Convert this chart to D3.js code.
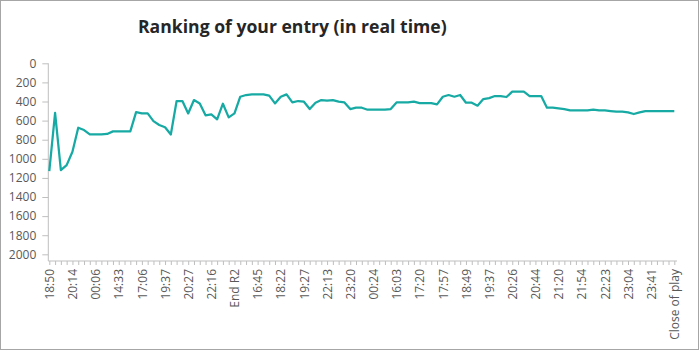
<!DOCTYPE html>
<html><head><meta charset="utf-8">
<script src="https://cdn.jsdelivr.net/npm/d3@7"></script>
<style>
body{margin:0;background:#fff;}
svg{display:block;}
text{font-family:"Open Sans","Noto Sans",sans-serif;}
</style></head>
<body>
<svg id="chart" width="699" height="350"></svg>
<script>
const title = "Ranking of your entry (in real time)";
// x-axis tick labels (one every 4th snapshot)
const tickLabels = ["18:50","20:14","00:06","14:33","17:06","19:37","20:27","22:16","End R2","16:45","18:22","19:27","22:13","23:20","00:24","16:03","17:20","17:57","18:49","19:37","20:26","20:44","21:20","21:54","22:23","23:04","23:41","Close of play"];
const labelEvery = 4;
// ranking at each snapshot
const ranking = [1130,518,1118,1066,926,675,699,745,745,745,740,713,713,713,713,511,525,525,605,646,
  670,745,395,395,525,385,420,545,535,587,423,566,525,350,332,325,325,325,339,420,
  350,325,410,395,402,479,413,385,392,385,402,410,479,465,465,486,486,486,486,479,
  410,410,410,402,416,416,416,430,350,332,350,332,413,413,444,374,364,343,343,353,
  297,297,297,343,343,343,465,465,472,479,493,493,493,493,486,493,493,500,507,507,
  514,531,514,500,500,500,500,500,500];
const yTicks = [0,200,400,600,800,1000,1200,1400,1600,1800,2000];
const yAxisMax = 2070;

const svg = d3.select("#chart");
const W = 699, H = 350;
const mLeft = 48.3, mRight = 674.3, mTop = 63.3, mBottom = 261;

svg.append("rect").attr("x",0.5).attr("y",0.5).attr("width",W-1).attr("height",H-1)
  .attr("fill","#fff").attr("stroke","#a6a6a6").attr("stroke-width",1);

svg.append("text").attr("x",138).attr("y",33).attr("font-size","17.6px").attr("font-weight","bold")
  .attr("fill","#262626").text(title);

const idx = ranking.map((d,i)=>i);
const x = d3.scalePoint().domain(idx).range([mLeft+1, mRight]).padding(0);
const y = d3.scaleLinear().domain([0,yAxisMax]).range([mTop,mBottom]);

// y axis
const gy = svg.append("g").attr("transform",`translate(${mLeft},0)`)
  .call(d3.axisLeft(y).tickValues(yTicks).tickSize(6).tickPadding(6).tickFormat(d3.format("d")));
gy.select(".domain").remove();
gy.selectAll(".tick line").attr("stroke","#bfbfbf");
gy.selectAll(".tick text").attr("fill","#595959").attr("font-size","12px");
svg.append("line").attr("x1",mLeft).attr("x2",mLeft).attr("y1",mTop).attr("y2",mBottom)
  .attr("stroke","#bfbfbf").attr("stroke-width",1);

// x axis
const gx = svg.append("g").attr("transform",`translate(0,${mBottom})`)
  .call(d3.axisBottom(x).tickSize(4).tickFormat(i => i % labelEvery === 0 ? tickLabels[i/labelEvery] : ""));
gx.select(".domain").remove();
gx.selectAll(".tick line").attr("stroke","#bfbfbf");
gx.selectAll(".tick text").attr("fill","#595959").attr("font-size","12px")
  .attr("transform","rotate(-90)").attr("text-anchor","end")
  .attr("x",-8).attr("y",0).attr("dy","0.35em");
svg.append("line").attr("x1",mLeft).attr("x2",677).attr("y1",mBottom).attr("y2",mBottom)
  .attr("stroke","#bfbfbf").attr("stroke-width",1);

// line
svg.append("path").datum(ranking)
  .attr("fill","none").attr("stroke","#17aaa4").attr("stroke-width",2.25)
  .attr("stroke-linejoin","round")
  .attr("d", d3.line().x((d,i)=>x(i)).y(d=>y(d)));
</script>
</body></html>
